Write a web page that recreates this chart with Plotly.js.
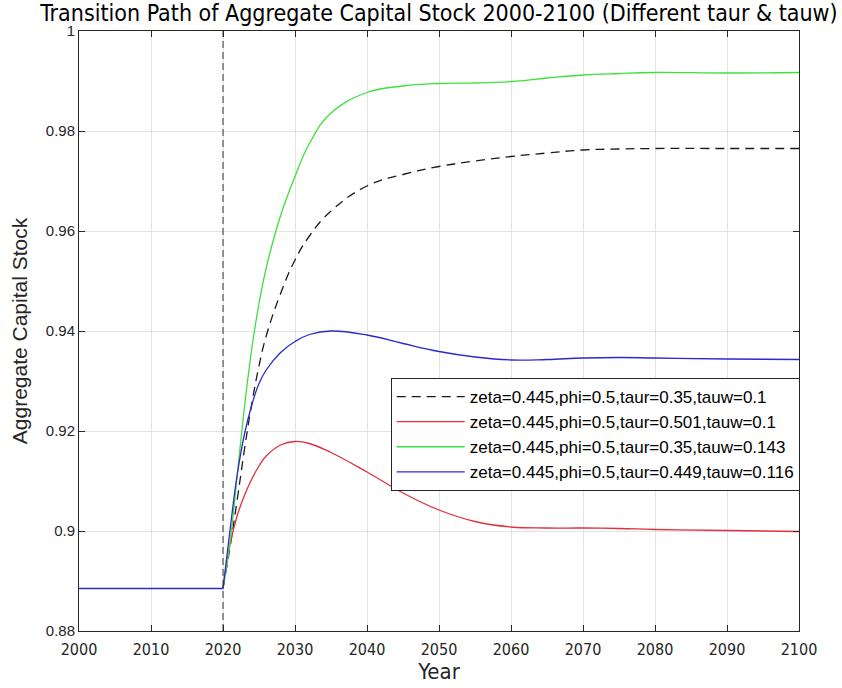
<!DOCTYPE html>
<html><head><meta charset="utf-8">
<script src="https://cdn.plot.ly/plotly-3.0.1.min.js"></script>
<style>html,body{margin:0;padding:0;background:#fff}#chart{width:842px;height:688px}</style>
</head><body><div id="chart"></div>
<script>
// ---- data ----
const startYear = 2000;
const shockYear = 2020;
const initialValue = 0.8885;
const years = [2020, 2021, 2022, 2023, 2024, 2025, 2026, 2028, 2030, 2032, 2035, 2040, 2045, 2050, 2055, 2060, 2065, 2070, 2075, 2080, 2090, 2100];
const kBaseline = [0.8885, 0.897, 0.9065, 0.9165, 0.9255, 0.933, 0.939, 0.9475, 0.9542, 0.959, 0.964, 0.969, 0.9713, 0.9729, 0.974, 0.9749, 0.9756, 0.9762, 0.9764, 0.9765, 0.9765, 0.9765];
const kHighTaur = [0.8885, 0.8975, 0.9032, 0.9072, 0.9104, 0.913, 0.915, 0.9172, 0.9179, 0.9175, 0.9157, 0.9118, 0.9076, 0.9042, 0.9019, 0.9008, 0.9006, 0.9006, 0.9005, 0.9003, 0.9001, 0.8999];
const kHighTauw = [0.8885, 0.898, 0.9115, 0.925, 0.9365, 0.9455, 0.9526, 0.9631, 0.9709, 0.9775, 0.9836, 0.9877, 0.989, 0.9895, 0.9896, 0.9899, 0.9906, 0.9912, 0.9915, 0.9917, 0.9916, 0.9917];
const kMixed = [0.8885, 0.9005, 0.9115, 0.9195, 0.9252, 0.9295, 0.9322, 0.9357, 0.9379, 0.9393, 0.94, 0.9392, 0.9375, 0.9359, 0.9348, 0.9342, 0.9343, 0.9346, 0.9347, 0.9346, 0.9344, 0.9343];
const seriesNames = [
  'zeta=0.445,phi=0.5,taur=0.35,tauw=0.1',
  'zeta=0.445,phi=0.5,taur=0.501,tauw=0.1',
  'zeta=0.445,phi=0.5,taur=0.35,tauw=0.143',
  'zeta=0.445,phi=0.5,taur=0.449,tauw=0.116'
];
const xTickVals = [2000, 2010, 2020, 2030, 2040, 2050, 2060, 2070, 2080, 2090, 2100];
const yTickVals = [0.88, 0.9, 0.92, 0.94, 0.96, 0.98, 1];
const yTickLabels = ['0.88', '0.9', '0.92', '0.94', '0.96', '0.98', '1'];

// ---- styles ----
const narrow = '"DejaVu Sans Condensed", "Liberation Sans Narrow", sans-serif';
const sans = '"Liberation Sans", Arial, sans-serif';
const seriesValues = [kBaseline, kHighTaur, kHighTauw, kMixed];
const styles = [
  {color: '#1a1a1a', dash: '9px,6px'},
  {color: '#e0303c', dash: 'solid'},
  {color: '#3ee03e', dash: 'solid'},
  {color: '#2a2ad0', dash: 'solid'}
];

const traces = seriesValues.map((vals, i) => ({
  type: 'scatter', mode: 'lines', x: years, y: vals, name: seriesNames[i],
  line: {color: styles[i].color, dash: styles[i].dash, width: 1.3, shape: 'spline', smoothing: 1.2}
}));
traces.push({
  type: 'scatter', mode: 'lines', x: [startYear, shockYear], y: [initialValue, initialValue],
  showlegend: false, hoverinfo: 'skip',
  line: {color: styles[3].color, width: 1.3}
});

const axisCommon = {
  showline: true, linecolor: '#262626', linewidth: 1, mirror: 'ticks',
  ticks: 'inside', ticklen: 6, tickcolor: '#262626', tickwidth: 1,
  showgrid: true, gridcolor: '#e3e3e3', gridwidth: 1, zeroline: false
};

const layout = {
  width: 842, height: 688,
  margin: {l: 79, r: 43, t: 31, b: 57},
  paper_bgcolor: '#fff', plot_bgcolor: '#fff',
  title: {text: 'Transition Path of Aggregate Capital Stock 2000-2100 (Different taur &amp; tauw)',
    font: {family: narrow, size: 23, color: '#000'}, xref: 'paper', x: 0.5, xanchor: 'center',
    yref: 'container', y: 1 - 13 / 688, yanchor: 'middle'},
  xaxis: Object.assign({}, axisCommon, {range: [startYear, 2100], tickvals: xTickVals,
    tickfont: {family: narrow, size: 16, color: '#262626'}, ticklabelstandoff: 4,
    title: {text: 'Year', font: {family: narrow, size: 22, color: '#262626'}, standoff: 0}}),
  yaxis: Object.assign({}, axisCommon, {range: [0.88, 1], tickvals: yTickVals, ticktext: yTickLabels,
    tickfont: {family: sans, size: 15, color: '#262626'},
    title: {text: 'Aggregate Capital Stock', font: {family: sans, size: 21, color: '#262626'}, standoff: 12}}),
  legend: {x: 1.001, xanchor: 'right', y: (631 - 378) / 600, yanchor: 'top',
    bgcolor: '#fff', bordercolor: '#262626', borderwidth: 1,
    font: {family: sans, size: 17, color: '#000'}, itemwidth: 68, tracegroupgap: 0},
  shapes: [{type: 'line', xref: 'x', yref: 'paper', x0: shockYear, x1: shockYear, y0: 0, y1: 1,
    line: {color: '#333', width: 1, dash: '7px,4px'}}],
  showlegend: true
};

Plotly.newPlot('chart', traces, layout, {displayModeBar: false, staticPlot: true});
</script>
</body></html>
